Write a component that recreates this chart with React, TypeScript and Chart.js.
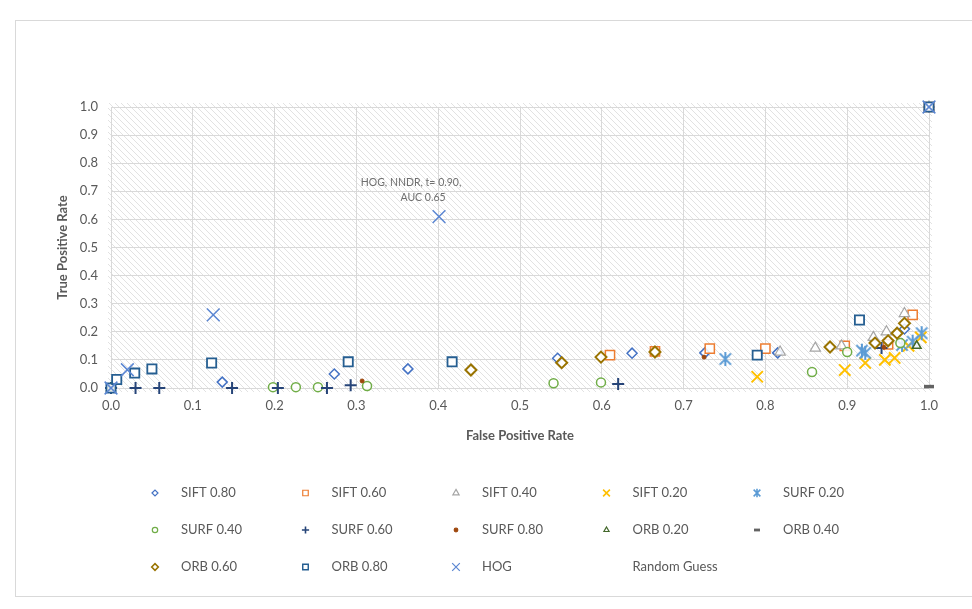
import React, { useEffect, useRef } from 'react';
import { Chart, registerables } from 'chart.js';
import { drawPoint } from 'chart.js/helpers';

Chart.register(...registerables);

type P = { x: number; y: number };

// ---- data ----
const SIFT_080: P[] = [
  { x: 0, y: 0 }, { x: 0.136, y: 0.021 }, { x: 0.273, y: 0.05 }, { x: 0.363, y: 0.068 },
  { x: 0.546, y: 0.106 }, { x: 0.637, y: 0.124 }, { x: 0.726, y: 0.125 }, { x: 0.815, y: 0.125 },
  { x: 0.97, y: 0.21 }, { x: 1, y: 1 },
];
const SIFT_060: P[] = [
  { x: 0.61, y: 0.117 }, { x: 0.665, y: 0.13 }, { x: 0.732, y: 0.14 }, { x: 0.8, y: 0.14 },
  { x: 0.897, y: 0.15 }, { x: 0.95, y: 0.155 }, { x: 0.98, y: 0.26 }, { x: 1, y: 1 },
];
const SIFT_040: P[] = [
  { x: 0.818, y: 0.128 }, { x: 0.861, y: 0.142 }, { x: 0.893, y: 0.15 }, { x: 0.932, y: 0.18 },
  { x: 0.948, y: 0.2 }, { x: 0.97, y: 0.265 }, { x: 1, y: 1 },
];
const SIFT_020: P[] = [
  { x: 0.79, y: 0.04 }, { x: 0.897, y: 0.064 }, { x: 0.922, y: 0.089 }, { x: 0.946, y: 0.1 },
  { x: 0.958, y: 0.107 }, { x: 0.975, y: 0.15 }, { x: 0.99, y: 0.18 },
];
const SURF_020: P[] = [
  { x: 0.751, y: 0.103 }, { x: 0.918, y: 0.133 }, { x: 0.922, y: 0.125 }, { x: 0.967, y: 0.153 },
  { x: 0.98, y: 0.165 }, { x: 0.991, y: 0.195 },
];
const SURF_040: P[] = [
  { x: 0.198, y: 0.003 }, { x: 0.226, y: 0.003 }, { x: 0.253, y: 0.003 }, { x: 0.313, y: 0.007 },
  { x: 0.541, y: 0.017 }, { x: 0.599, y: 0.02 }, { x: 0.857, y: 0.057 }, { x: 0.9, y: 0.128 },
  { x: 0.965, y: 0.16 },
];
const SURF_060: P[] = [
  { x: 0, y: 0 }, { x: 0.03, y: 0 }, { x: 0.059, y: 0 }, { x: 0.148, y: 0 }, { x: 0.204, y: 0 },
  { x: 0.264, y: 0 }, { x: 0.293, y: 0.01 }, { x: 0.62, y: 0.014 }, { x: 0.942, y: 0.142 },
];
const SURF_080: P[] = [
  { x: 0.307, y: 0.025 }, { x: 0.725, y: 0.11 }, { x: 0.945, y: 0.145 },
];
const ORB_020: P[] = [
  { x: 0, y: 0 }, { x: 0.985, y: 0.15 },
];
const ORB_040: P[] = [
  { x: 1, y: 0.005 },
];
const ORB_060: P[] = [
  { x: 0.44, y: 0.064 }, { x: 0.551, y: 0.09 }, { x: 0.599, y: 0.11 }, { x: 0.665, y: 0.128 },
  { x: 0.879, y: 0.146 }, { x: 0.934, y: 0.16 }, { x: 0.95, y: 0.168 }, { x: 0.961, y: 0.195 },
  { x: 0.97, y: 0.23 },
];
const ORB_080: P[] = [
  { x: 0, y: 0 }, { x: 0.007, y: 0.03 }, { x: 0.029, y: 0.053 }, { x: 0.05, y: 0.068 },
  { x: 0.123, y: 0.089 }, { x: 0.29, y: 0.093 }, { x: 0.417, y: 0.093 }, { x: 0.79, y: 0.117 },
  { x: 0.915, y: 0.242 }, { x: 1, y: 1 },
];
const HOG: P[] = [
  { x: 0, y: 0 }, { x: 0.02, y: 0.065 }, { x: 0.125, y: 0.26 }, { x: 0.401, y: 0.61 }, { x: 1, y: 1 },
];
const RANDOM_GUESS: P[] = [
  { x: 0, y: 0 }, { x: 1, y: 1 },
];

const X_TICK_LABELS = ['0.0', '0.1', '0.2', '0.3', '0.4', '0.5', '0.6', '0.7', '0.8', '0.9', '1.0'];
const Y_TICK_LABELS = ['0.0', '0.1', '0.2', '0.3', '0.4', '0.5', '0.6', '0.7', '0.8', '0.9', '1.0'];
const X_TITLE = 'False Positive Rate';
const Y_TITLE = 'True Positive Rate';
const ANNOTATION_POINT: P = { x: 0.401, y: 0.61 };
const ANNOTATION_LINES = ['HOG, NNDR, t= 0.90,', 'AUC 0.65'];

// Excel-like asterisk marker (X with a vertical bar)
function makeAsterisk(color: string, half: number, lw: number): HTMLCanvasElement {
  const size = Math.ceil(half * 2 + lw * 2);
  const c = document.createElement('canvas');
  c.width = size;
  c.height = size;
  const g = c.getContext('2d')!;
  const m = size / 2;
  g.strokeStyle = color;
  g.lineWidth = lw;
  g.lineCap = 'butt';
  g.beginPath();
  g.moveTo(m - half * 0.8, m - half * 0.8); g.lineTo(m + half * 0.8, m + half * 0.8);
  g.moveTo(m + half * 0.8, m - half * 0.8); g.lineTo(m - half * 0.8, m + half * 0.8);
  g.moveTo(m, m - half); g.lineTo(m, m + half);
  g.stroke();
  return c;
}

// ---- series styling ----
const FILL = 'rgba(255,255,255,0.85)';
const series: any[] = [
  { label: 'SIFT 0.80', data: SIFT_080, style: 'rectRot', color: '#4472C4', r: 5, bw: 1.5, fill: FILL },
  { label: 'SIFT 0.60', data: SIFT_060, style: 'rect', color: '#ED7D31', r: 6.5, bw: 1.5, fill: FILL },
  { label: 'SIFT 0.40', data: SIFT_040, style: 'triangle', color: '#A5A5A5', r: 6, bw: 1.2, fill: FILL },
  { label: 'SIFT 0.20', data: SIFT_020, style: 'crossRot', color: '#FFC000', r: 8, bw: 2, fill: FILL },
  { label: 'SURF 0.20', data: SURF_020, style: 'asterisk', color: '#5B9BD5', r: 7, bw: 2, fill: FILL },
  { label: 'SURF 0.40', data: SURF_040, style: 'circle', color: '#70AD47', r: 4.5, bw: 1.5, fill: FILL },
  { label: 'SURF 0.60', data: SURF_060, style: 'cross', color: '#264478', r: 6, bw: 2, fill: FILL },
  { label: 'SURF 0.80', data: SURF_080, style: 'circle', color: '#9E480E', r: 2, bw: 1, fill: '#9E480E' },
  { label: 'ORB 0.20', data: ORB_020, style: 'triangle', color: '#43682B', r: 5, bw: 1.5, fill: FILL },
  { label: 'ORB 0.40', data: ORB_040, style: 'line', color: '#636363', r: 5, bw: 3.5, fill: FILL },
  { label: 'ORB 0.60', data: ORB_060, style: 'rectRot', color: '#997300', r: 5.5, bw: 2, fill: FILL },
  { label: 'ORB 0.80', data: ORB_080, style: 'rect', color: '#255E91', r: 6.5, bw: 1.8, fill: FILL },
  { label: 'HOG', data: HOG, style: 'crossRot', color: '#5B86D2', r: 9, bw: 1.5, fill: FILL },
  { label: 'Random Guess', data: RANDOM_GUESS, style: 'circle', color: 'rgba(0,0,0,0)', r: 0, bw: 0, fill: 'rgba(0,0,0,0)', noMarker: true },
];

const TEXT = '#595959';
Chart.defaults.font.family = "Lato, 'Open Sans', sans-serif";

const framePlugin = {
  id: 'frameHatch',
  beforeDraw(chart: any) {
    const { ctx, chartArea: a } = chart;
    ctx.save();
    ctx.fillStyle = '#ffffff';
    ctx.fillRect(0, 0, chart.width, chart.height);
    ctx.strokeStyle = '#d9d9d9';
    ctx.lineWidth = 1;
    ctx.strokeRect(15.5, 20.5, chart.width, 576);
    const tile = document.createElement('canvas');
    tile.width = 6;
    tile.height = 6;
    const t = tile.getContext('2d')!;
    t.strokeStyle = '#e2e2e2';
    t.lineWidth = 1;
    t.beginPath();
    t.moveTo(-1, -1); t.lineTo(7, 7);
    t.moveTo(-1, 5); t.lineTo(1, 7);
    t.moveTo(5, -1); t.lineTo(7, 1);
    t.stroke();
    const pat = ctx.createPattern(tile, 'repeat');
    ctx.fillStyle = pat;
    ctx.fillRect(a.left - 3, a.top - 4, a.right - a.left + 6, a.bottom - a.top + 8);
    ctx.restore();
  },
  afterDatasetsDraw(chart: any) {
    const { ctx, scales } = chart;
    const px = scales.x.getPixelForValue(ANNOTATION_POINT.x);
    const py = scales.y.getPixelForValue(ANNOTATION_POINT.y);
    ctx.save();
    ctx.font = "10.5px Lato, 'Open Sans', sans-serif";
    ctx.fillStyle = '#6f6f6f';
    ctx.textAlign = 'center';
    ctx.textBaseline = 'middle';
    ctx.fillText(ANNOTATION_LINES[0], px - 28, py - 34);
    ctx.fillText(ANNOTATION_LINES[1], px - 16, py - 19);
    ctx.restore();
  },
  afterDraw(chart: any) {
    const { ctx } = chart;
    ctx.save();
    ctx.font = "13px Lato, 'Open Sans', sans-serif";
    ctx.textAlign = 'left';
    ctx.textBaseline = 'middle';
    chart.data.datasets.forEach((ds: any, i: number) => {
      const col = i % 5;
      const row = Math.floor(i / 5);
      const x = 155 + col * 150.5;
      const y = 493 + row * 37;
      if (ds.legendImage) {
        const im = ds.legendImage as HTMLCanvasElement;
        ctx.drawImage(im, x - im.width / 2, y - im.height / 2);
      } else if (!ds.noMarker) {
        ctx.strokeStyle = ds.borderColor;
        ctx.fillStyle = ds.backgroundColor;
        ctx.lineWidth = ds.legendBw;
        drawPoint(ctx, { pointStyle: ds.pointStyle, radius: ds.legendR, borderWidth: ds.legendBw, rotation: 0 } as any, x, y);
      }
      ctx.fillStyle = TEXT;
      ctx.fillText(ds.label, x + 26, y);
    });
    ctx.restore();
  },
};

export default function App() {
  const ref = useRef<HTMLCanvasElement>(null);
  useEffect(() => {
    if (!ref.current) return;
    const datasets = series.map((s, i) => {
      const isAst = s.style === 'asterisk';
      const pointStyle = isAst ? makeAsterisk(s.color, s.r, s.bw) : s.style;
      return {
        label: s.label,
        data: s.data,
        order: -i,
        pointStyle,
        pointRadius: s.r,
        pointHoverRadius: s.r,
        borderColor: s.color,
        backgroundColor: s.fill,
        pointBorderColor: s.color,
        pointBackgroundColor: s.fill,
        pointBorderWidth: s.bw,
        showLine: false,
        clip: false,
        noMarker: s.noMarker,
        legendImage: isAst ? makeAsterisk(s.color, s.r * 0.6, Math.max(1.2, s.bw * 0.8)) : null,
        legendR: s.style === 'circle' && s.r <= 2 ? 1.8 : s.r * 0.6,
        legendBw: Math.max(1.2, s.bw * 0.8),
      };
    });
    const chart = new Chart(ref.current, {
      type: 'scatter',
      data: { datasets } as any,
      plugins: [framePlugin],
      options: {
        animation: false,
        responsive: false,
        events: [],
        layout: { padding: { left: 51, top: 107, right: 43, bottom: 161 } },
        plugins: { legend: { display: false }, tooltip: { enabled: false } },
        scales: {
          x: {
            type: 'linear',
            min: 0,
            max: 1,
            afterFit: (s: any) => { s.height = 60; },
            grid: { color: '#d9d9d9', lineWidth: 1, drawTicks: false },
            border: { display: false },
            ticks: {
              stepSize: 0.1,
              autoSkip: false,
              maxRotation: 0,
              padding: 10,
              color: TEXT,
              font: { size: 13 },
              callback: (v: any) => X_TICK_LABELS[Math.round(Number(v) * 10)] ?? '',
            },
            title: { display: true, text: X_TITLE, color: TEXT, font: { size: 13, weight: 'bold' }, padding: { top: 4, bottom: 4 } },
          },
          y: {
            type: 'linear',
            min: 0,
            max: 1,
            afterFit: (s: any) => { s.width = 60; },
            grid: { color: '#d9d9d9', lineWidth: 1, drawTicks: false },
            border: { display: false },
            ticks: {
              stepSize: 0.1,
              autoSkip: false,
              padding: 13,
              color: TEXT,
              font: { size: 13 },
              callback: (v: any) => Y_TICK_LABELS[Math.round(Number(v) * 10)] ?? '',
            },
            title: { display: true, text: Y_TITLE, color: TEXT, font: { size: 13, weight: 'bold' }, padding: { top: 4, bottom: 4 } },
          },
        },
      } as any,
    });
    return () => chart.destroy();
  }, []);
  return (
    <div style={{ position: 'absolute', left: 0, top: 0, width: 972, height: 609, background: '#fff' }}>
      <canvas ref={ref} width={972} height={609} style={{ display: 'block' }} />
    </div>
  );
}
